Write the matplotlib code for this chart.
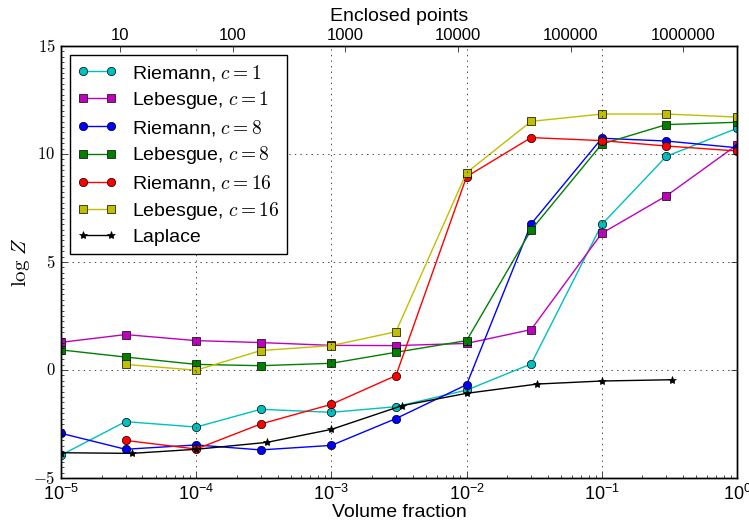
"""log Z against volume fraction for Riemann / Lebesgue / Laplace estimates."""

import matplotlib

matplotlib.use("Agg")
import matplotlib.pyplot as plt  # noqa: E402
from matplotlib.ticker import FixedLocator, FuncFormatter, MultipleLocator, NullLocator  # noqa: E402

plt.style.use("classic")
plt.rcParams["font.family"] = ["Liberation Sans", "DejaVu Sans"]
plt.rcParams["mathtext.fontset"] = "cm"
plt.rcParams["figure.facecolor"] = "white"
plt.rcParams["savefig.facecolor"] = "white"

# volume fractions used by the integration runs
fractions = [1e-5, 3e-5, 1e-4, 3e-4, 1e-3, 3e-3, 1e-2, 3e-2, 1e-1, 3e-1, 1.0]
fractions_c16 = fractions[1:]
fractions_laplace = [1e-5, 1 / 3 * 1e-4, 1e-4, 1 / 3 * 1e-3, 1e-3, 1 / 3 * 1e-2,
                     1e-2, 1 / 3 * 1e-1, 1e-1, 1 / 3]

riemann_c1 = [-3.94, -2.39, -2.64, -1.82, -1.96, -1.70, -0.93, 0.28, 6.74, 9.89, 11.19]
lebesgue_c1 = [1.28, 1.64, 1.36, 1.27, 1.14, 1.13, 1.23, 1.87, 6.33, 8.06, 10.42]
riemann_c8 = [-2.93, -3.67, -3.47, -3.70, -3.49, -2.25, -0.68, 6.76, 10.73, 10.60, 10.29]
lebesgue_c8 = [0.93, 0.60, 0.26, 0.20, 0.31, 0.82, 1.36, 6.48, 10.46, 11.36, 11.47]
riemann_c16 = [-3.26, -3.66, -2.50, -1.59, -0.26, 8.95, 10.76, 10.62, 10.37, 10.14]
lebesgue_c16 = [0.26, -0.01, 0.90, 1.13, 1.77, 9.14, 11.51, 11.85, 11.85, 11.71]
laplace = [-3.83, -3.86, -3.67, -3.35, -2.75, -1.65, -1.08, -0.65, -0.51, -0.45]

top_ticks = [10, 100, 1000, 10000, 100000, 1000000]

fig = plt.figure(figsize=(7.49, 5.22), dpi=100)
ax = fig.add_axes([61 / 749, 44 / 522, 676 / 749, 432 / 522])

ax.plot(fractions, riemann_c1, "c-o", label=r"Riemann, $c=1$")
ax.plot(fractions, lebesgue_c1, "m-s", label=r"Lebesgue, $c=1$")
ax.plot(fractions, riemann_c8, "b-o", label=r"Riemann, $c=8$")
ax.plot(fractions, lebesgue_c8, "g-s", label=r"Lebesgue, $c=8$")
ax.plot(fractions_c16, riemann_c16, "r-o", label=r"Riemann, $c=16$")
ax.plot(fractions_c16, lebesgue_c16, "y-s", label=r"Lebesgue, $c=16$")
ax.plot(fractions_laplace, laplace, "k-*", label="Laplace")

ax.set_xscale("log")
ax.set_xlim(1e-5, 1)
ax.set_ylim(-5, 15)
ax.yaxis.set_major_locator(MultipleLocator(5))
ax.yaxis.set_minor_locator(MultipleLocator(0.25))
ax.yaxis.set_major_formatter(FuncFormatter(lambda v, _: r"$\mathrm{%d}$" % v))
ax.tick_params(axis="x", top=False, which="both", labelsize=13)
ax.tick_params(axis="y", which="minor", right=False)
ax.tick_params(axis="y", labelsize=12)
ax.grid(True)
ax.set_xlabel("Volume fraction", fontsize=14, labelpad=0)
ax.set_ylabel(r"$\log\,Z$", fontsize=15, labelpad=1)
ax.legend(loc="upper left", fontsize=14, borderaxespad=0.45, labelspacing=0.34)

top = ax.twiny()
top.set_xscale("log")
top.set_xlim(3, 3e6)
top.xaxis.set_major_locator(FixedLocator(top_ticks))
top.xaxis.set_minor_locator(NullLocator())
top.xaxis.set_major_formatter(FuncFormatter(lambda v, _: "%d" % v))
top.tick_params(labelsize=12, pad=2)
top.set_xlabel("Enclosed points", fontsize=14, labelpad=5)

fig.savefig("out.png", dpi=100)
